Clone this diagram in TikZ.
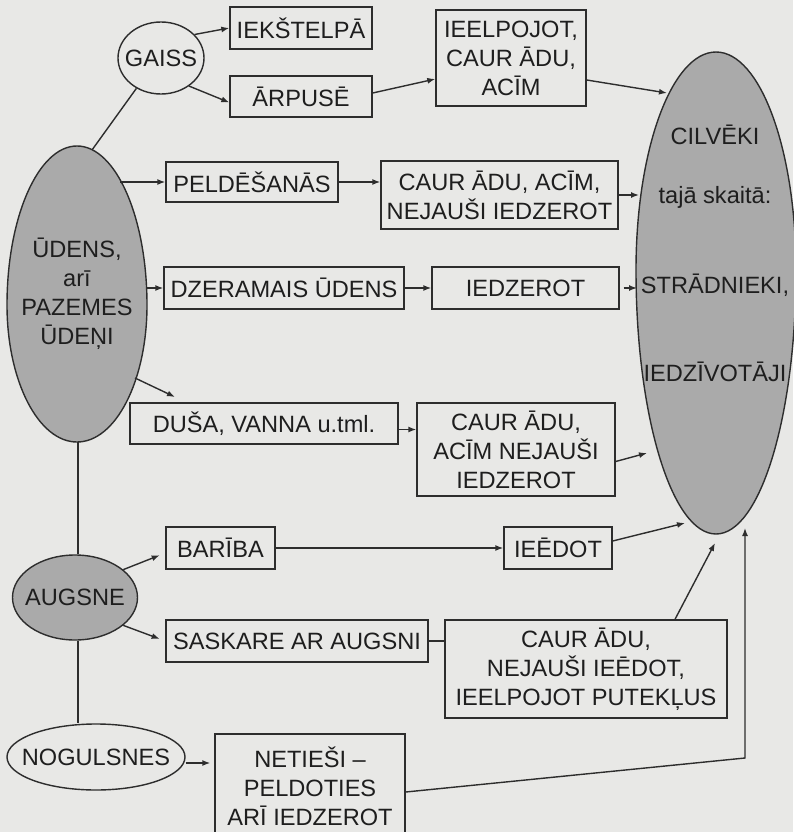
\documentclass[tikz,border=0pt]{standalone}
\usepackage{fontspec}
\setmainfont{Liberation Sans}
\usetikzlibrary{arrows.meta,shapes.geometric}
\definecolor{paper}{RGB}{232,232,230}
\definecolor{ink}{RGB}{45,45,45}
\definecolor{textink}{RGB}{30,30,30}
\definecolor{eggfill}{RGB}{170,170,170}
\begin{document}
\begin{tikzpicture}[x=1pt,y=-1pt,
  every node/.style={text=textink, font=\fontsize{23.6}{29}\selectfont},
  box/.style={draw=ink, line width=1.4pt, inner sep=0pt, align=center},
  oval/.style={draw=ink, line width=1.4pt, ellipse, inner sep=0pt},
  conn/.style={draw=ink, line width=1.4pt},
  arr/.style={conn, -{Latex[length=8pt,width=6pt]}},
  egg/.style={fill=eggfill, draw=ink, line width=1.4pt}
]
% page
\fill[paper] (0,0) rectangle (793,832);
\useasboundingbox (0,0) rectangle (793,832);

% egg-shaped sources and receivers
\path[egg] (7,305) .. controls (7,217.2) and (38.3,146) .. (77,146)
  .. controls (115.7,146) and (147,217.2) .. (147,305)
  .. controls (147,380.7) and (115.7,442) .. (77,442)
  .. controls (38.3,442) and (7,380.7) .. cycle;
\path[egg] (636,270) .. controls (636,149.6) and (671.8,52) .. (716,52)
  .. controls (760.2,52) and (796,149.6) .. (796,270)
  .. controls (796,415.8) and (760.2,534) .. (716,534)
  .. controls (671.8,534) and (636,415.8) .. cycle;

\node[align=center] (udens) at (77,294) {ŪDENS,\\arī\\PAZEMES\\ŪDEŅI};
\node[align=center] (cil) at (715,253)
  {CILVĒKI\\[30pt]tajā skaitā:\\[61pt]STRĀDNIEKI,\\[59pt]IEDZĪVOTĀJI};

% ovals
\node[oval, minimum width=86pt, minimum height=72pt, label=center:GAISS] (gaiss) at (161,58) {};
\node[oval, fill=eggfill, minimum width=125pt, minimum height=85pt, label=center:AUGSNE] (augsne) at (75,597.5) {};
\node[oval, minimum width=178pt, minimum height=66pt, label=center:NOGULSNES] (nog) at (96,757) {};

% boxes
\node[box, minimum width=142pt, minimum height=42pt] (iek) at (301,28) {IEKŠTELPĀ};
\node[box, minimum width=142pt, minimum height=41pt] (arp) at (301,96.5) {ĀRPUSĒ};
\node[box, minimum width=150pt, minimum height=96pt] (ieel) at (511,58) {IEELPOJOT,\\CAUR ĀDU,\\ACĪM};
\node[box, minimum width=172pt, minimum height=40pt] (peld) at (252,182) {PELDĒŠANĀS};
\node[box, minimum width=237pt, minimum height=68pt] (caur1) at (499.5,195) {CAUR ĀDU, ACĪM,\\NEJAUŠI IEDZEROT};
\node[box, minimum width=240pt, minimum height=42pt] (dzer) at (284,288) {DZERAMAIS ŪDENS};
\node[box, minimum width=187pt, minimum height=42pt] (iedz) at (525.5,288) {IEDZEROT};
\node[box, minimum width=268pt, minimum height=41pt] (dusa) at (264,423.5) {DUŠA, VANNA u.tml.};
\node[box, minimum width=198pt, minimum height=93pt] (caur2) at (516,449.5) {CAUR ĀDU,\\ACĪM NEJAUŠI\\IEDZEROT};
\node[box, minimum width=109pt, minimum height=42pt] (bar) at (220.5,548) {BARĪBA};
\node[box, minimum width=108pt, minimum height=42pt] (iee) at (558,548) {IEĒDOT};
\node[box, minimum width=262pt, minimum height=42pt] (sask) at (297,641) {SASKARE AR AUGSNI};
\node[box, minimum width=282pt, minimum height=98pt] (caur3) at (586,669) {CAUR ĀDU,\\NEJAUŠI IEĒDOT,\\IEELPOJOT PUTEKĻUS};
\node[box, minimum width=190pt, minimum height=105pt] (net) at (310,786.5) {NETIEŠI –\\PELDOTIES\\ARĪ IEDZEROT};

% points on the egg outlines
\coordinate (u1) at (92,150);
\coordinate (u2) at (120,182);
\coordinate (u3) at (146,288);
\coordinate (u4) at (135,378);
\coordinate (u5) at (78,442);
\coordinate (d1) at (175,397);
\coordinate (c1) at (667,93);
\coordinate (c2) at (639,195);
\coordinate (c3) at (637,288);
\coordinate (c4) at (647,453);
\coordinate (c5) at (685,523);
\coordinate (c6) at (715,543);
\coordinate (k1) at (745,758);
\coordinate (c7) at (745,528);

% air
\draw[arr] (gaiss.35) -- (iek.west);
\draw[arr] (gaiss.-45) -- ([yshift=-6pt]arp.west);
\draw[conn] (gaiss.231) -- (u1);
\draw[arr] ([yshift=3.5pt]arp.east) -- ([yshift=-21pt]ieel.west);
\draw[arr] ([yshift=-22pt]ieel.east) -- (c1);

% water
\draw[arr] (u2) -- (peld.west);
\draw[arr] (peld.east) -- (peld.east -| caur1.west);
\draw[arr] (caur1.east) -- (c2);
\draw[arr] (u3) -- (dzer.west);
\draw[arr] (dzer.east) -- (iedz.west);
\draw[arr, shorten <=4pt] (iedz.east) -- (c3);
\draw[arr] (u4) -- (d1);
\draw[arr] ([yshift=-6pt]dusa.east) -- ([yshift=-6pt]dusa.east -| caur2.west);
\draw[arr] ([yshift=-12pt]caur2.east) -- (c4);

% soil and sediments
\draw[conn] (u5) -- (u5 |- augsne.north);
\draw[conn] (u5 |- augsne.south) -- (u5 |- nog.north);
\draw[arr, shorten >=6pt] (augsne.30) -- ([yshift=-5pt]bar.west);
\draw[arr, shorten >=6pt] (augsne.-30) -- (sask.west);
\draw[arr] (bar.east) -- (iee.west);
\draw[arr] ([yshift=7pt]iee.east) -- (c5);
\draw[conn] (sask.east) -- (sask.east -| caur3.west);
\draw[arr] ([xshift=89pt]caur3.north) -- (c6);
\draw[arr, shorten >=4pt] ([yshift=-6pt]nog.east) -- ([yshift=-6pt]nog.east -| net.west);
\draw[arr] ([yshift=-5.5pt]net.east) -- (k1) -- (c7);
\end{tikzpicture}
\end{document}
